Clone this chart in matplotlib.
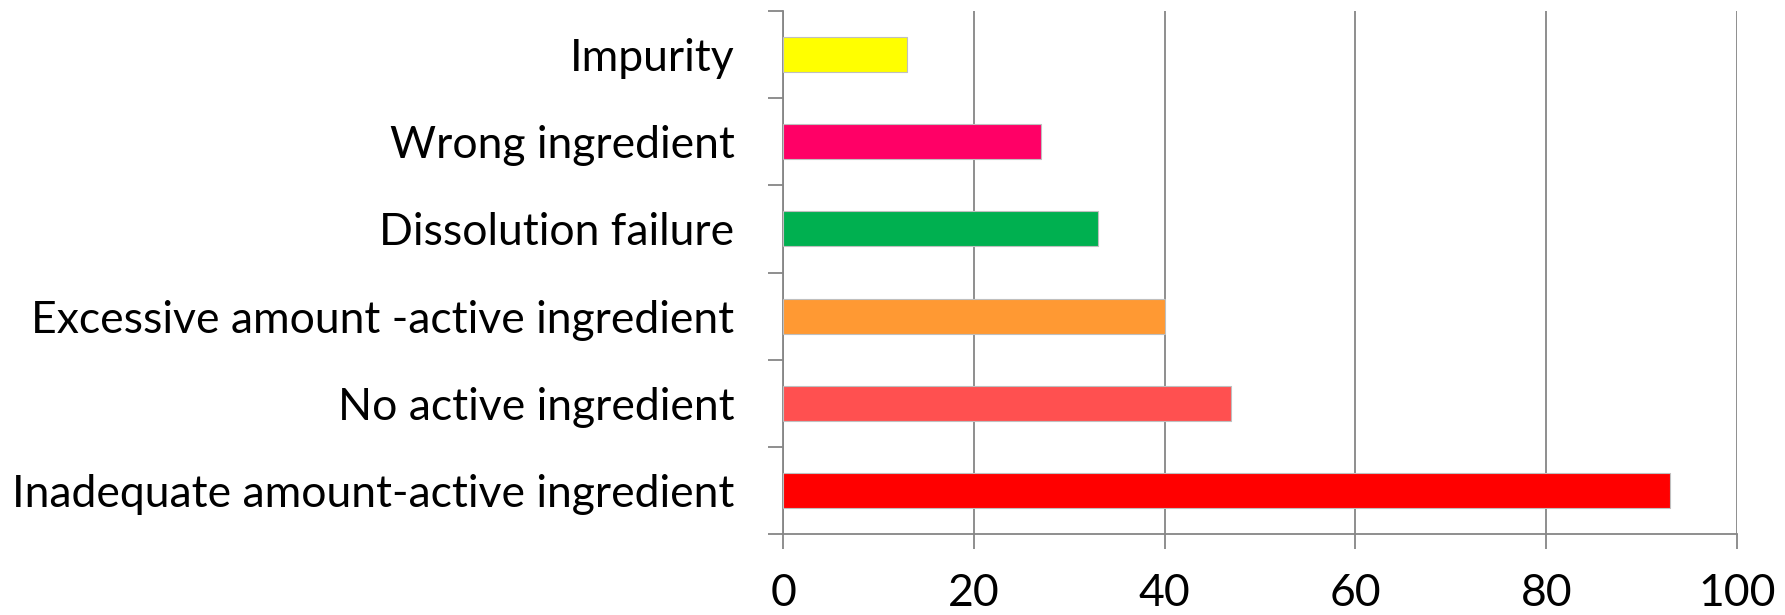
import matplotlib
matplotlib.use("Agg")
import matplotlib.pyplot as plt
from matplotlib.ticker import FixedLocator, NullFormatter, FixedFormatter

# Categories listed bottom-to-top as drawn on the chart
categories = [
    "Inadequate amount-active ingredient",
    "No active ingredient",
    "Excessive amount -active ingredient",
    "Dissolution failure",
    "Wrong ingredient",
    "Impurity",
]
values = [93, 47, 40, 33, 27, 13]
colors = ["#FF0000", "#FF5050", "#FF9933", "#00B050", "#FF0066", "#FFFF00"]
x_ticks = [0, 20, 40, 60, 80, 100]

plt.rcParams["font.family"] = ["Lato", "DejaVu Sans"]

fig = plt.figure(figsize=(17.85, 6.15), dpi=100)
ax = fig.add_axes([0.4387, 0.1317, 0.9731 - 0.4387, 0.9821 - 0.1317])

pos = list(range(len(categories)))
ax.barh(pos, values, height=0.4, color=colors, edgecolor="#BFBFBF", linewidth=0.8, zorder=3)

grid_c = "#868686"
ax.set_xlim(0, 100)
ax.set_ylim(-0.5, len(categories) - 0.5)
ax.xaxis.set_major_locator(FixedLocator(x_ticks))
ax.set_xticklabels([str(t) for t in x_ticks])
ax.grid(axis="x", color=grid_c, linewidth=1.3, zorder=0)

# Category labels centred on bars; ticks at the category boundaries
ax.yaxis.set_major_locator(FixedLocator([p - 0.5 for p in pos] + [len(categories) - 0.5]))
ax.yaxis.set_major_formatter(NullFormatter())
ax.yaxis.set_minor_locator(FixedLocator(pos))
ax.yaxis.set_minor_formatter(FixedFormatter(categories))
ax.tick_params(axis="y", which="major", length=11, width=1.3, color=grid_c, direction="out")
ax.tick_params(axis="y", which="minor", length=0, pad=35, labelsize=32)
ax.tick_params(axis="x", which="major", length=11, width=1.3, color=grid_c, direction="out",
               labelsize=32, pad=17)

for s in ["top", "right"]:
    ax.spines[s].set_visible(False)
for s in ["left", "bottom"]:
    ax.spines[s].set_color(grid_c)
    ax.spines[s].set_linewidth(1.3)

fig.savefig("out.png", dpi=100)
